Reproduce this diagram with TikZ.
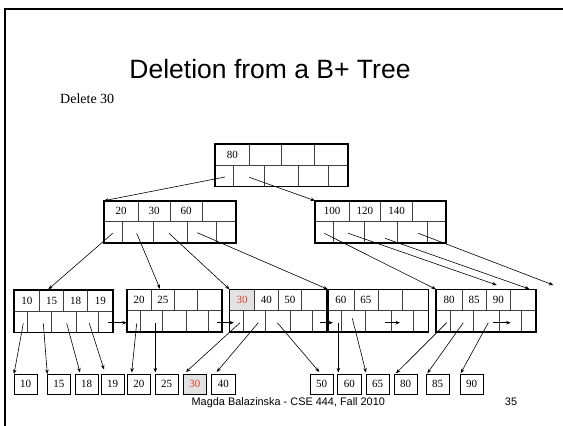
\documentclass[tikz,border=0pt]{standalone}
\usepackage{fontspec}
\setmainfont{Liberation Serif}
\setsansfont{Liberation Sans}
\usetikzlibrary{calc,arrows.meta}
\definecolor{delred}{RGB}{225,60,35}
\definecolor{delgray}{RGB}{226,226,226}
\tikzset{
  bbox/.style={draw=black, line width=1.6pt, minimum height=42.5pt, inner sep=0pt, outer sep=0pt},
  bdiv/.style={draw=black!75, line width=0.8pt},
  keytxt/.style={font=\fontsize{11}{13}\selectfont, inner sep=0pt},
  valbox/.style={draw=black, line width=0.8pt, minimum width=23.3pt, minimum height=20pt, inner sep=0pt, outer sep=0pt, anchor=north west, font=\fontsize{11}{13}\selectfont},
  ptr/.style={draw=black, line width=0.6pt, -{Stealth[length=4.5pt,width=3.5pt]}},
  framestyle/.style={draw=black, line width=2.5pt},
}
\newcommand{\bpnode}[8]{%
  \pgfmathsetmacro\bw{#4}%
  \node[bbox, minimum width=\bw pt, anchor=north west] (#1) at (#2,#3) {};
  \draw[bdiv] ($(#1.north west)+(0,21)$) -- ($(#1.north east)+(0,21)$);
  \foreach \f in {0.26,0.5,0.745} \draw[bdiv] ($(#1.north west)+(\f*\bw,0)$) -- ($(#1.north west)+(\f*\bw,21)$);
  \foreach \f in {0.14,0.375,0.63,0.855} \draw[bdiv] ($(#1.north west)+(\f*\bw,21)$) -- ($(#1.south west)+(\f*\bw,0)$);
  \node[keytxt] (#1-k1) at ($(#1.north west)+(0.13*\bw,10.5)$) {#5};
  \node[keytxt] (#1-k2) at ($(#1.north west)+(0.38*\bw,10.5)$) {#6};
  \node[keytxt] (#1-k3) at ($(#1.north west)+(0.6225*\bw,10.5)$) {#7};
  \node[keytxt] (#1-k4) at ($(#1.north west)+(0.8725*\bw,10.5)$) {#8};
  \draw[bbox] (#1.north west) rectangle (#1.south east);
}
\begin{document}
\begin{tikzpicture}[x=1pt,y=-1pt]
\useasboundingbox (0,0) rectangle (563,426);
% slide frame
\fill[black] (3.75,7.75) rectangle (6.25,426);
\fill[black] (3.75,7.75) rectangle (563,10.25);
% title
\node[font=\sffamily\fontsize{26.5}{32}\selectfont, anchor=base, inner sep=0pt] (title) at (270,78) {Deletion from a B+ Tree};
\node[font=\fontsize{14}{17}\selectfont, anchor=base west, inner sep=0pt] (del) at (60,103) {Delete 30};
% gray cell behind 30
\fill[delgray] (229.5,289.3) rectangle (254.7,310.5);
% tree nodes
\bpnode{root}{215}{144}{133}{80}{}{}{}
\bpnode{n2}{104}{200.7}{132}{20}{30}{60}{}
\bpnode{n3}{315}{200.7}{131}{100}{120}{140}{}
\bpnode{leaf1}{14}{290}{99}{10}{15}{18}{19}
\bpnode{leaf2}{126.7}{289.3}{95}{20}{25}{}{}
\bpnode{leaf3}{229.5}{289.3}{97}{\textcolor{delred}{30}}{40}{50}{}
\bpnode{leaf4}{327.8}{289.3}{100.5}{60}{65}{}{}
\bpnode{leaf5}{436}{289.3}{100}{80}{85}{90}{}
% value boxes
\node[valbox] (v10) at (14,374) {10};
\node[valbox] (v15) at (47.3,374) {15};
\node[valbox] (v18) at (75,374) {18};
\node[valbox] (v19) at (101,374) {19};
\node[valbox] (v20) at (127.3,374) {20};
\node[valbox] (v25) at (155,374) {25};
\node[valbox, fill=delgray, text=delred] (v30) at (183.3,374) {30};
\node[valbox] (v40) at (211.7,374) {40};
\node[valbox] (v50) at (310,374) {50};
\node[valbox] (v60) at (337.7,374) {60};
\node[valbox] (v65) at (366,374) {65};
\node[valbox] (v80) at (394,374) {80};
\node[valbox] (v85) at (426,374) {85};
\node[valbox] (v90) at (460,374) {90};
% pointer origins
\coordinate (root-p1) at (225,177);
\coordinate (root-p2) at (249.3,177.3);
\coordinate (n2-p1) at (112.7,233.3);
\coordinate (n2-p2) at (136.7,233.3);
\coordinate (n2-p3) at (169,233.3);
\coordinate (n2-p4) at (197.3,232.7);
\coordinate (n3-p1) at (324.3,233.3);
\coordinate (n3-p2) at (348.3,233.3);
\coordinate (n3-p3) at (385,238.3);
\coordinate (n3-p4) at (418.3,233.3);
\coordinate (leaf1-p1) at (23.3,323.3);
\coordinate (leaf1-p2) at (43.3,323.3);
\coordinate (leaf1-p3) at (66.7,323.3);
\coordinate (leaf1-p4) at (89.3,323.3);
\coordinate (leaf1-nx) at (108.3,322.7);
\coordinate (leaf2-p1) at (136.7,323.3);
\coordinate (leaf2-p2) at (155.3,323.3);
\coordinate (leaf2-nx) at (216.7,322.7);
\coordinate (leaf3-p1) at (240,322.7);
\coordinate (leaf3-p2) at (258.3,322.7);
\coordinate (leaf3-p3) at (277.3,322.7);
\coordinate (leaf3-nx) at (320,322.7);
\coordinate (leaf4-p1) at (338.3,323.3);
\coordinate (leaf4-p2) at (352.3,318.3);
\coordinate (leaf4-nx) at (385,322.7);
\coordinate (leaf5-p1) at (446.7,322.7);
\coordinate (leaf5-p2) at (463.3,322.7);
\coordinate (leaf5-p3) at (488.3,322.7);
\coordinate (leaf5-nx) at (493.3,322.7);
% pointer targets
\coordinate (leaf1-in) at (48.3,289.3);
\coordinate (leaf2-in) at (160,288.8);
\coordinate (leaf5-in2) at (496.7,285);
\coordinate (leaf5-in3) at (529.3,289);
\coordinate (n3-out) at (553.3,285);
\coordinate (leaf3-in) at (234,322.7);
\coordinate (leaf4-in) at (333,322.7);
\coordinate (leaf4-end) at (400,322.7);
\coordinate (leaf5-end) at (510.7,322.7);
\coordinate (v19-in) at (104,369.5);
% connectors
\draw[ptr] (root-p1) -- (n2.north west);
\draw[ptr] (root-p2) -- (n3.north west);
\draw[ptr] (n2-p1) -- (leaf1-in);
\draw[ptr] (n2-p2) -- (leaf2-in);
\draw[ptr] (n2-p3) -- (leaf3.north west);
\draw[ptr] (n2-p4) -- (leaf4.north west);
\draw[ptr] (n3-p1) -- (leaf5.north west);
\draw[ptr] (n3-p2) -- (leaf5-in2);
\draw[ptr] (n3-p3) -- (leaf5-in3);
\draw[ptr] (n3-p4) -- (n3-out);
\draw[ptr] (leaf1-p1) -- (v10.north west);
\draw[ptr] (leaf1-p2) -- (v15.north west);
\draw[ptr] (leaf1-p3) -- ($(v18.north west)+(5,-1.5)$);
\draw[ptr] (leaf1-p4) -- (v19-in);
\draw[ptr] (leaf1-nx) -- (leaf2.west |- leaf1-nx);
\draw[ptr] (leaf2-p1) -- ($(v20.north west)+(4.4,-1.5)$);
\draw[ptr] (leaf2-p2) -- ($(v25.north west)+(0.3,-1.5)$);
\draw[ptr] (leaf2-nx) -- (leaf3-in);
\draw[ptr] (leaf3-p1) -- ($(v30.north west)+(2.7,-2)$);
\draw[ptr] (leaf3-p2) -- ($(v40.north west)+(5,-2)$);
\draw[ptr] (leaf3-p3) -- ($(v50.north west)+(9.3,-2)$);
\draw[ptr] (leaf3-nx) -- (leaf4-in);
\draw[ptr] (leaf4-p1) -- ($(v60.north west)+(0.6,-1.5)$);
\draw[ptr] (leaf4-p2) -- ($(v65.north west)+(0,-1.5)$);
\draw[ptr] (leaf4-nx) -- (leaf4-end);
\draw[ptr] (leaf5-p1) -- ($(v80.north west)+(2,-0.7)$);
\draw[ptr] (leaf5-p2) -- ($(v85.north west)+(1.3,-0.7)$);
\draw[ptr] (leaf5-p3) -- ($(v90.north west)+(0.7,-0.7)$);
\draw[ptr] (leaf5-nx) -- (leaf5-end);
% footer
\node[font=\sffamily\fontsize{10.9}{13}\selectfont, anchor=base, inner sep=0pt] (foot) at (288.3,405.5) {Magda Balazinska - CSE 444, Fall 2010};
\node[font=\sffamily\fontsize{10.9}{13}\selectfont, anchor=base, inner sep=0pt] (pg) at (511,405.5) {35};
\end{tikzpicture}
\end{document}
